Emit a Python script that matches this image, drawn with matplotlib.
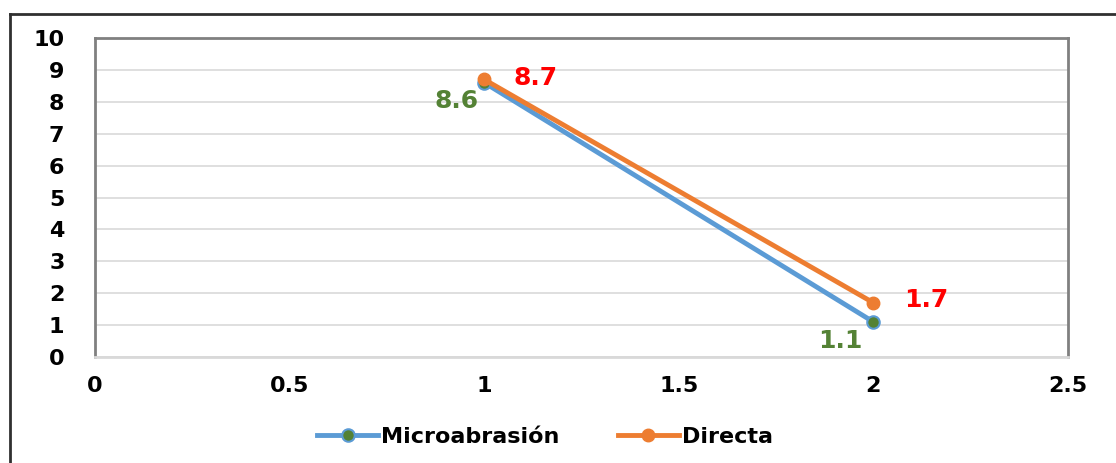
import matplotlib
matplotlib.use("Agg")
import matplotlib.pyplot as plt
from matplotlib.lines import Line2D

x_vals = [1, 2]
micro = [8.6, 1.1]
directa = [8.7, 1.7]
series_names = ["Microabrasión", "Directa"]
xticks = [0, 0.5, 1, 1.5, 2, 2.5]
xtick_labels = ["0", "0.5", "1", "1.5", "2", "2.5"]
yticks = list(range(0, 11))

plt.rcParams['font.family'] = ['DejaVu Sans']
plt.rcParams['font.weight'] = 'bold'

W, H = 1116, 463
fig = plt.figure(figsize=(W/100, H/100), dpi=100)
ax = fig.add_axes([95/W, 1-357/H, (1068-95)/W, (357-38)/H])

blue = '#5B9BD5'
green = '#548235'
orange = '#ED7D31'

ax.plot(x_vals, micro, color=blue, lw=3.5, marker='o', ms=9,
        mfc=green, mec=blue, mew=1.5, label=series_names[0], zorder=3)
ax.plot(x_vals, directa, color=orange, lw=3.5, marker='o', ms=9,
        mfc=orange, mec=orange, label=series_names[1], zorder=4)

ax.set_xlim(0, 2.5)
ax.set_ylim(0, 10)
ax.set_xticks(xticks)
ax.set_xticklabels(xtick_labels)
ax.set_yticks(yticks)
ax.tick_params(axis='both', length=0, labelsize=16)
ax.tick_params(axis='x', pad=14)
ax.tick_params(axis='y', pad=22)
for lab in ax.get_yticklabels():
    lab.set_horizontalalignment('right')
ax.grid(axis='y', color='#D9D9D9', lw=1.2)
ax.set_axisbelow(True)
for s in ax.spines.values():
    s.set_color('#808080')
    s.set_linewidth(2)
ax.spines['bottom'].set_color('#D9D9D9')

fs = 18
ax.annotate(f"{micro[0]}", (x_vals[0], micro[0]), xytext=(-4, -13), textcoords='offset points',
            ha='right', va='center', color=green, fontsize=fs, fontweight='bold')
ax.annotate(f"{directa[0]}", (x_vals[0], directa[0]), xytext=(21, 1), textcoords='offset points',
            ha='left', va='center', color='#FF0000', fontsize=fs, fontweight='bold')
ax.annotate(f"{micro[1]}", (x_vals[1], micro[1]), xytext=(-8, -13.5), textcoords='offset points',
            ha='right', va='center', color=green, fontsize=fs, fontweight='bold')
ax.annotate(f"{directa[1]}", (x_vals[1], directa[1]), xytext=(22, 2), textcoords='offset points',
            ha='left', va='center', color='#FF0000', fontsize=fs, fontweight='bold')

leg = fig.legend(loc='center left', bbox_to_anchor=(317/W, 1-437/H), ncol=2, frameon=False,
                 fontsize=16, handlelength=2.75, columnspacing=2.6, handletextpad=0.15,
                 borderaxespad=0, borderpad=0)

# outer frame
fig.add_artist(Line2D([10/W, 10/W], [0, 1-14/H], color='#303030', lw=2, transform=fig.transFigure))
fig.add_artist(Line2D([10/W, 1], [1-14/H, 1-14/H], color='#303030', lw=2, transform=fig.transFigure))

fig.savefig('out.png', dpi=100)
